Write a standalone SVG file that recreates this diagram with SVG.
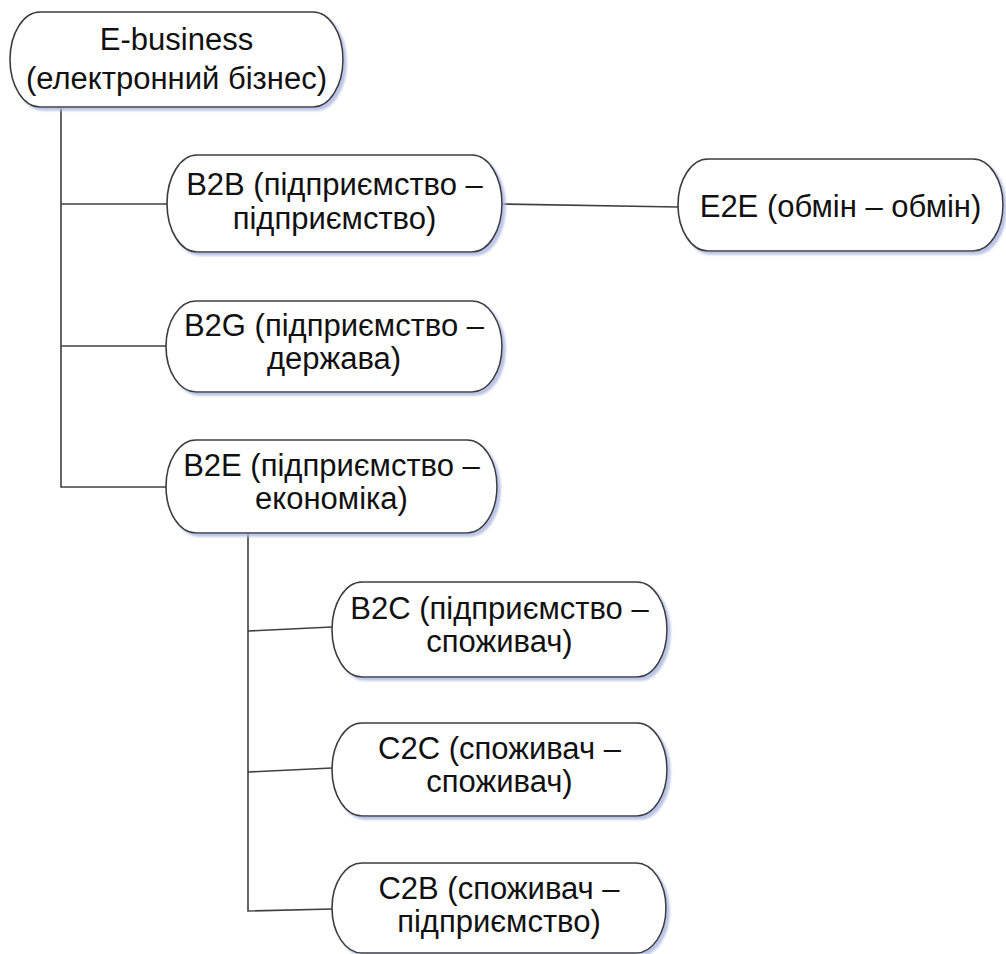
<svg xmlns="http://www.w3.org/2000/svg" width="1006" height="954" viewBox="0 0 1006 954">
  <defs>
    <filter id="shadow" x="-5%" y="-10%" width="115%" height="130%">
      <feDropShadow dx="3" dy="3" stdDeviation="1.2" flood-color="#aeb9e0" flood-opacity="0.85"/>
    </filter>
  </defs>
  <style>
    .box { fill: #ffffff; stroke: #3c3c3c; stroke-width: 1.6; filter: url(#shadow); }
    .lbl { font-family: "Liberation Sans", Arial, sans-serif; font-size: 31px; fill: #111111; text-anchor: middle; }
    .wire { fill: none; stroke: #404040; stroke-width: 1.6; }
  </style>
  <rect width="1006" height="954" fill="#ffffff"/>

  <!-- connectors -->
  <g id="connectors" class="wire">
    <polyline points="61,107 61,487 166,487"/>
    <line x1="61" y1="204" x2="167" y2="204"/>
    <line x1="61" y1="346" x2="166" y2="346"/>
    <line x1="502" y1="204" x2="678" y2="207"/>
    <polyline points="248,533 248,911 332,909"/>
    <line x1="248" y1="631" x2="332" y2="627"/>
    <line x1="248" y1="772" x2="332" y2="768"/>
  </g>

  <!-- nodes -->
  <g id="e-business">
    <rect class="box" x="10" y="12" width="333" height="95" rx="30" ry="47.5"/>
    <text class="lbl" x="176.5" y="50">E-business</text>
    <text class="lbl" x="176.5" y="89">(електронний бізнес)</text>
  </g>
  <g id="b2b">
    <rect class="box" x="167" y="155" width="335" height="97" rx="30" ry="48.5"/>
    <text class="lbl" x="334.5" y="195">B2B (підприємство –</text>
    <text class="lbl" x="334.5" y="229">підприємство)</text>
  </g>
  <g id="e2e">
    <rect class="box" x="678" y="159" width="325" height="92" rx="30" ry="46"/>
    <text class="lbl" x="840.5" y="217">E2E (обмін – обмін)</text>
  </g>
  <g id="b2g">
    <rect class="box" x="166" y="301" width="336" height="91" rx="30" ry="45.5"/>
    <text class="lbl" x="334" y="336">B2G (підприємство –</text>
    <text class="lbl" x="334" y="369">держава)</text>
  </g>
  <g id="b2e">
    <rect class="box" x="166" y="440" width="331" height="93" rx="30" ry="46.5"/>
    <text class="lbl" x="331.5" y="476">B2E (підприємство –</text>
    <text class="lbl" x="331.5" y="509">економіка)</text>
  </g>
  <g id="b2c">
    <rect class="box" x="332" y="582" width="335" height="95" rx="30" ry="47.5"/>
    <text class="lbl" x="499.5" y="619">B2C (підприємство –</text>
    <text class="lbl" x="499.5" y="652">споживач)</text>
  </g>
  <g id="c2c">
    <rect class="box" x="332" y="723" width="335" height="93" rx="30" ry="46.5"/>
    <text class="lbl" x="499.5" y="759">C2C (споживач –</text>
    <text class="lbl" x="499.5" y="792">споживач)</text>
  </g>
  <g id="c2b">
    <rect class="box" x="332" y="863" width="334" height="90" rx="30" ry="45"/>
    <text class="lbl" x="499" y="899">C2B (споживач –</text>
    <text class="lbl" x="499" y="932">підприємство)</text>
  </g>
</svg>
